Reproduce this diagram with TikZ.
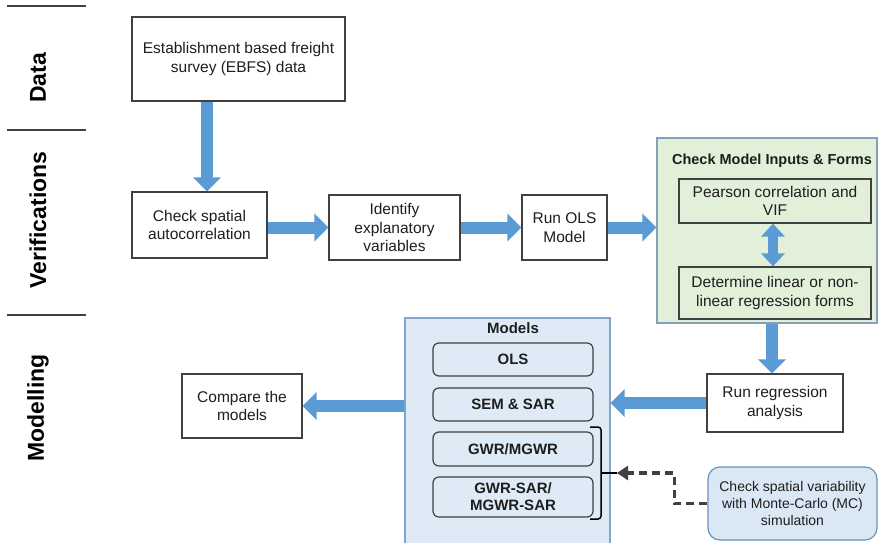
\documentclass[tikz,border=0pt]{standalone}
\usepackage{fontspec}
\setmainfont{Liberation Sans}
\usetikzlibrary{arrows.meta,calc}

\definecolor{arrowblue}{RGB}{91,155,213}
\definecolor{boxline}{RGB}{64,64,64}
\definecolor{greenfill}{RGB}{226,240,217}
\definecolor{greenline}{RGB}{132,160,185}
\definecolor{modelfill}{RGB}{222,235,247}
\definecolor{modelline}{RGB}{130,165,205}
\definecolor{mcfill}{RGB}{218,232,245}
\definecolor{mcline}{RGB}{105,145,190}
\definecolor{txt}{RGB}{30,30,30}

\tikzset{
  stepbox/.style={draw=boxline, line width=1.2pt, fill=white, align=center,
    font=\fontsize{15.5}{18.5}\selectfont, text=txt, inner sep=2pt},
  modelbox/.style={draw=boxline, line width=1.2pt, fill=modelfill, rounded corners=6pt,
    align=center, font=\fontsize{15}{17}\selectfont\bfseries, text=txt,
    minimum width=160pt, inner sep=1pt},
  blockarrow/.style={draw=arrowblue, line width=12pt,
    -{Triangle[width=27pt,length=14pt]}},
  twoway/.style={draw=arrowblue, line width=10pt,
    {Triangle[width=23pt,length=13pt]}-{Triangle[width=23pt,length=13pt]}},
  dasharrow/.style={draw=boxline, line width=3.2pt, dash pattern=on 8pt off 5pt,
    -{Triangle[width=14pt,length=11pt]}},
  phase/.style={rotate=90, font=\fontsize{23}{25}\selectfont\bfseries, text=black},
  divider/.style={draw=boxline, line width=1.3pt}
}

\begin{document}
\begin{tikzpicture}[x=1pt,y=-1pt]
\useasboundingbox (0,0) rectangle (878,543);
\clip (0,0) rectangle (878,543);
\fill[white] (0,0) rectangle (878,543);

% phase dividers and labels
\draw[divider] (7,6) -- (86,6);
\draw[divider] (7,130) -- (86,130);
\draw[divider] (7,315) -- (86,315);
\node[phase] (ldata) at (38,78) {Data};
\node[phase] (lverif) at (38,220) {Verifications};
\node[phase] (lmodel) at (38,408) {Modelling};

% data and verification steps
\node[stepbox, minimum width=213pt, minimum height=84pt] (ebfs) at (238.5,59)
  {Establishment based freight\\survey (EBFS) data};
\node[stepbox, minimum width=135pt, minimum height=66pt] (check) at (199.5,225)
  {Check spatial\\autocorrelation};
\node[stepbox, minimum width=131pt, minimum height=65pt] (ident) at (394.5,227.5)
  {Identify\\explanatory\\variables};
\node[stepbox, minimum width=85pt, minimum height=65pt] (ols) at (564.5,227.5)
  {Run OLS\\Model};

% model input checks
\node[draw=greenline, line width=1.2pt, fill=greenfill, minimum width=220pt,
  minimum height=185pt] (green) at (767,230.5) {};
\node[font=\fontsize{14.5}{17}\selectfont\bfseries, text=txt] (gtitle) at (772,161)
  {Check Model Inputs \& Forms};
\node[stepbox, fill=greenfill, minimum width=192pt, minimum height=44pt] (pearson)
  at (775,201) {Pearson correlation and\\VIF};
\node[stepbox, fill=greenfill, minimum width=192pt, minimum height=52pt] (determ)
  at (775,293) {Determine linear or non-\\linear regression forms};

% modelling
\node[stepbox, minimum width=136pt, minimum height=58pt] (regr) at (775,403)
  {Run regression\\analysis};
\node[draw=modelline, line width=1.2pt, fill=modelfill, minimum width=205pt,
  minimum height=242pt] (models) at (507.5,439) {};
\node[font=\fontsize{15}{17}\selectfont\bfseries, text=txt] (mtitle) at (513,328) {Models};
\node[modelbox, minimum height=33pt] (mols) at (513,359.5) {OLS};
\node[modelbox, minimum height=33pt] (msem) at (513,404.5) {SEM \& SAR};
\node[modelbox, minimum height=34pt] (mgwr) at (513,449) {GWR/MGWR};
\node[modelbox, minimum height=40pt] (mgsar) at (513,497) {GWR-SAR/\\MGWR-SAR};
\node[stepbox, minimum width=120pt, minimum height=64pt] (compare) at (242,406)
  {Compare the\\models};
\node[draw=mcline, line width=1.2pt, fill=mcfill, rounded corners=12pt,
  minimum width=169pt, minimum height=73pt, align=center,
  font=\fontsize{14}{17}\selectfont, text=txt] (mc) at (792.5,503.5)
  {Check spatial variability\\with Monte-Carlo (MC)\\simulation};

% bracket grouping the local models
\coordinate (btop) at (590,427);
\coordinate (bbot) at (590,519);
\coordinate (bmid) at (601,473);
\coordinate (btip) at (617,473);
\draw[line width=1.5pt, rounded corners=3pt] (btop) -- (601,427) -- (601,519) -- (bbot);
\draw[line width=1.5pt] (bmid) -- (btip);

% flow arrows
\draw[blockarrow] ([xshift=-31.5pt]ebfs.south) -- ([xshift=-31.5pt]ebfs.south |- check.north);
\draw[blockarrow] (ident.west -| check.east) -- (ident.west);
\draw[blockarrow] (ident.east) -- (ols.west);
\draw[blockarrow] (ols.east) -- (ols.east -| green.west);
\draw[twoway] ([xshift=-2pt]pearson.south) -- ([xshift=-2pt]determ.north);
\draw[blockarrow] ([xshift=-3pt]regr.north |- green.south) -- ([xshift=-3pt]regr.north);
\draw[blockarrow] (regr.west) -- (regr.west -| models.east);
\draw[blockarrow] (compare.east -| models.west) -- (compare.east);
\draw[dasharrow] (mc.west) -- ++(-33,0) |- (btip);
\end{tikzpicture}
\end{document}
